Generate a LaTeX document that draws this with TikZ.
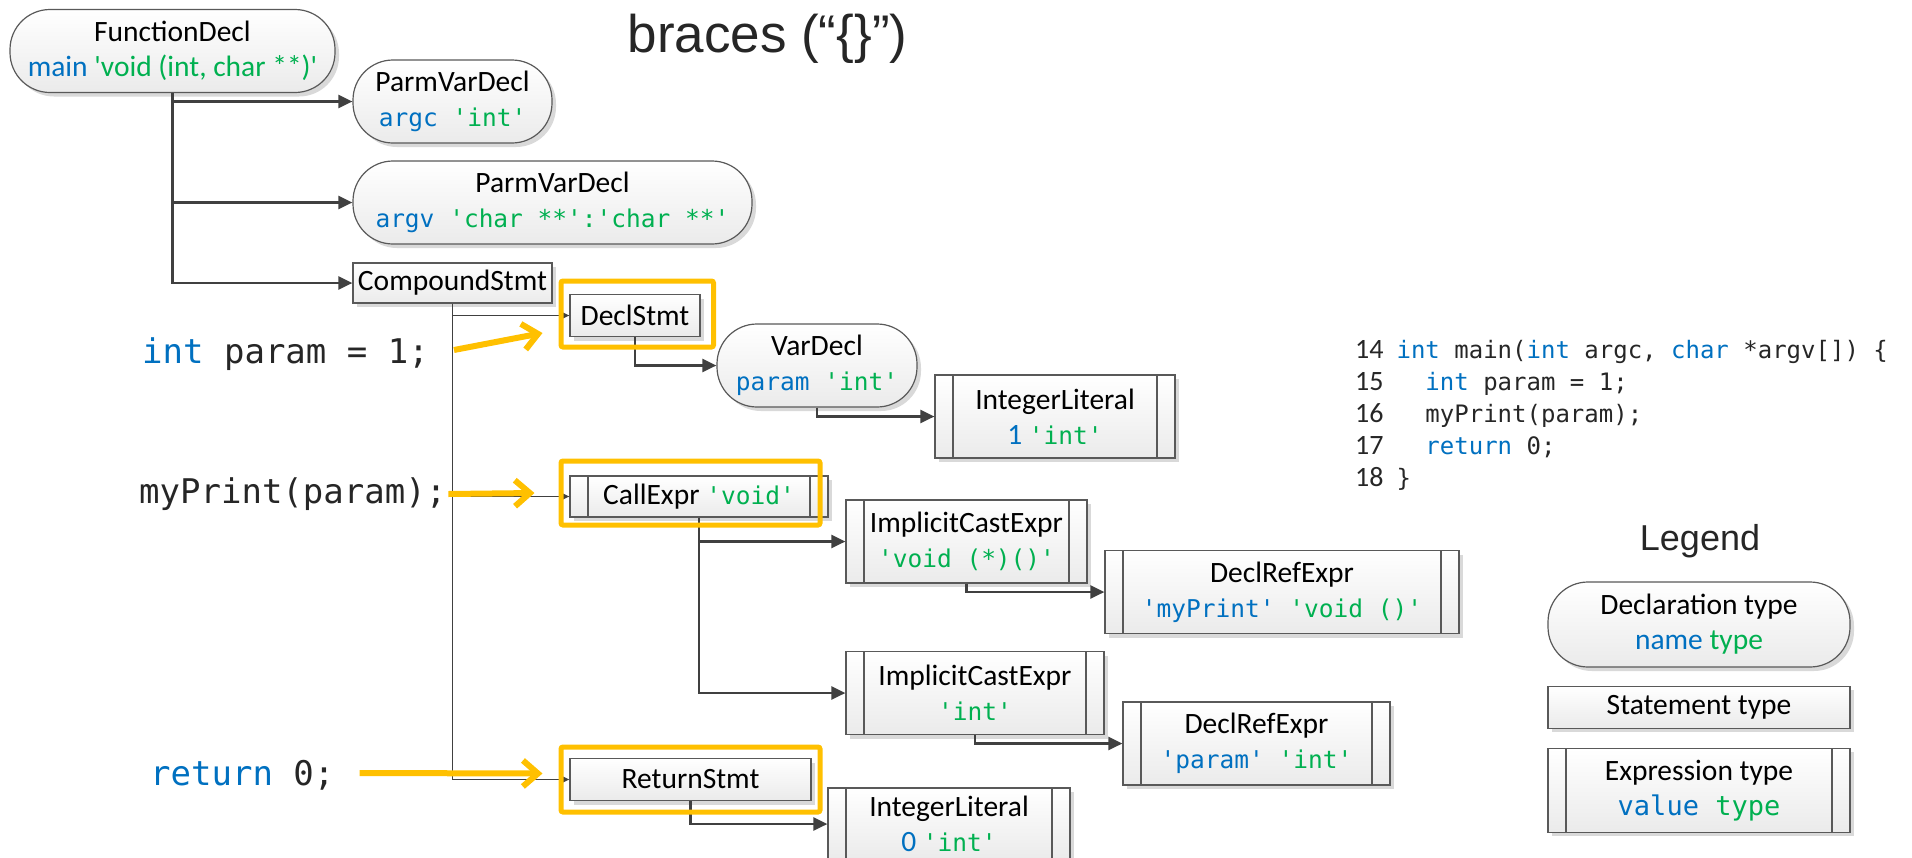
\documentclass[tikz,border=0pt]{standalone}
\usepackage{fontspec}
\setmainfont{Carlito}
\newfontfamily\calfont{Carlito}
\newfontfamily\codefont{DejaVu Sans Mono}
\newfontfamily\headfont{Liberation Sans}
\usepackage{xcolor}
\usepackage{tikz}
\usetikzlibrary{positioning, arrows.meta, shadows}
\definecolor{vblue}{HTML}{0070C0}
\definecolor{tgreen}{HTML}{00B050}
\definecolor{hlyellow}{HTML}{FFC000}
\definecolor{conngray}{HTML}{404040}
\definecolor{edgegray}{HTML}{595959}
\definecolor{inkgray}{HTML}{262626}
\newcommand{\valsans}[1]{\textcolor{vblue}{#1}}
\newcommand{\typsans}[1]{\textcolor{tgreen}{#1}}
\newcommand{\valcode}[2][24.5]{{\color{vblue}\codefont\fontsize{#1}{35}\selectfont #2}}
\newcommand{\typcode}[2][24.5]{{\color{tgreen}\codefont\fontsize{#1}{35}\selectfont #2}}
\tikzstyle{decl}=[%
      rectangle, rounded corners=40pt, draw=edgegray, line width=1.2pt, top color=white, bottom color=black!8,
      drop shadow={shadow xshift=4pt, shadow yshift=-4pt, fill=black!15, opacity=1},
      minimum height=83pt, inner sep=2pt, align=center, font=\calfont\fontsize{29.5}{35}\selectfont
]
\tikzstyle{stmt}=[%
      rectangle, draw=edgegray, line width=1.2pt, top color=white, bottom color=black!8,
      drop shadow={shadow xshift=4pt, shadow yshift=-4pt, fill=black!15, opacity=1},
      minimum height=42pt, inner sep=2pt, align=center, font=\calfont\fontsize{29.5}{35}\selectfont
]
\tikzstyle{expr}=[%
      stmt, minimum height=83pt,
      path picture={\draw[edgegray, line width=1.2pt]
        ([xshift=18pt]path picture bounding box.north west) -- ([xshift=18pt]path picture bounding box.south west)
        ([xshift=-18pt]path picture bounding box.north east) -- ([xshift=-18pt]path picture bounding box.south east);}
]
\tikzstyle{conn}=[draw=conngray, line width=2.4pt, -{Triangle[length=14pt,width=13pt]}]
\tikzstyle{thinconn}=[draw=conngray, line width=1.6pt, -{Triangle[length=9pt,width=8pt]}]
\tikzstyle{hl}=[rectangle, draw=hlyellow, line width=5pt, rounded corners=2pt, inner sep=0pt]
\tikzstyle{harrow}=[draw=hlyellow, line width=6pt, -{Straight Barb[length=15pt,width=26pt]}]
\tikzstyle{srcline}=[anchor=west, inner sep=0pt, text=inkgray, font=\codefont\fontsize{34}{40}\selectfont]

\begin{document}
\begin{tikzpicture}[x=1pt, y=-1pt]
\useasboundingbox (0,0) rectangle (1912,857);

\node[anchor=base, text=inkgray, font=\headfont\fontsize{53}{60}\selectfont](title) at (767.5,52) {braces (“\{\}”)};

\node[decl, minimum width=325pt](fdecl) at (172.5,51) {FunctionDecl\\\valsans{main} \typsans{'void (int, char **)'}};
\node[decl, minimum width=199pt](parmc) at (452.5,101.5) {ParmVarDecl\\\valcode{argc }\typcode{'int'}};
\node[decl, minimum width=399pt](parmv) at (552.5,202.5) {ParmVarDecl\\\valcode{argv }\typcode{'char **':'char **'}};
\node[stmt, minimum width=199pt, minimum height=40pt](compound) at (452.5,283) {CompoundStmt};
\node[stmt, minimum width=130pt](declstmt) at (635,315.5) {DeclStmt};
\node[decl, minimum width=200pt](vardecl) at (817,365.5) {VarDecl\\\valcode{param }\typcode{'int'}};
\node[expr, minimum width=240pt](intlitone) at (1055,416.5) {IntegerLiteral\\\valsans{1} \typcode{'int'}};
\node[expr, minimum width=258pt, minimum height=41pt](callexpr) at (699,496.5) {CallExpr \typcode{'void'}};
\node[expr, minimum width=241pt](castone) at (966.5,541.5) {ImplicitCastExpr\\\typcode{'void (*)()'}};
\node[expr, minimum width=354pt](refone) at (1282,592) {DeclRefExpr\\\valcode{'myPrint' }\typcode{'void ()'}};
\node[expr, minimum width=258pt](casttwo) at (975,693) {ImplicitCastExpr\\\typcode{'int'}};
\node[expr, minimum width=267pt](reftwo) at (1256.5,743.5) {DeclRefExpr\\\valcode{'param' }\typcode{'int'}};
\node[stmt, minimum width=241pt](retstmt) at (690.5,779.5) {ReturnStmt};
\node[expr, minimum width=242pt, minimum height=72pt](intlittwo) at (949,824) {IntegerLiteral\\\valsans{0} \typcode{'int'}};

\draw[conn](fdecl.south) |- (parmc.west);
\draw[conn](fdecl.south) |- (parmv.west);
\draw[conn](fdecl.south) |- (compound.west);
\draw[thinconn](compound.south) |- (declstmt.west);
\draw[thinconn](compound.south) |- (callexpr.west);
\draw[thinconn](compound.south) |- (retstmt.west);
\draw[conn](declstmt.south) |- (vardecl.west);
\draw[conn](vardecl.south) |- (intlitone.west);
\draw[conn](callexpr.south) |- (castone.west);
\draw[conn](callexpr.south) |- (casttwo.west);
\draw[conn](castone.south) |- (refone.west);
\draw[conn](casttwo.south) |- (reftwo.west);
\draw[conn](retstmt.south) |- (intlittwo.west);

\node[srcline](srcint) at (142,354) {\textcolor{vblue}{int} param = 1;};
\node[srcline](srcprint) at (139,494) {myPrint(param);};
\node[srcline](srcret) at (150,775) {\textcolor{vblue}{return} 0;};

\node[hl, minimum width=152.5pt, minimum height=66pt](hldecl) at (637.25,314) {};
\node[hl, minimum width=259pt, minimum height=64pt](hlcall) at (690.5,493) {};
\node[hl, minimum width=259pt, minimum height=65pt](hlret) at (690.5,779.5) {};

\draw[harrow]([xshift=25pt,yshift=4pt]srcint.east) -- ([xshift=-16pt,yshift=-19pt]hldecl.west);
\draw[harrow]([xshift=2pt]srcprint.east) -- ([xshift=-24pt]hlcall.west);
\draw[harrow]([xshift=25pt,yshift=2pt]srcret.east) -- ([xshift=-16pt,yshift=6pt]hlret.west);

\node[anchor=base west, inner sep=0pt, text=inkgray, font=\codefont\fontsize{24}{32}\selectfont](listing) at (1355,358) {%
\begin{tabular}[t]{@{}l@{\hspace{13pt}}l@{}}
{\calfont\fontsize{28}{32}\selectfont 14} & \textcolor{vblue}{int} main(\textcolor{vblue}{int} argc, \textcolor{vblue}{char} *argv[]) \{\\
{\calfont\fontsize{28}{32}\selectfont 15} & \phantom{ii}\textcolor{vblue}{int} param = 1;\\
{\calfont\fontsize{28}{32}\selectfont 16} & \phantom{ii}myPrint(param);\\
{\calfont\fontsize{28}{32}\selectfont 17} & \phantom{ii}\textcolor{vblue}{return} 0;\\
{\calfont\fontsize{28}{32}\selectfont 18} & \}
\end{tabular}};

\node[anchor=base, text=inkgray, font=\headfont\fontsize{36}{40}\selectfont](legend) at (1700,550) {Legend};
\node[decl, minimum width=302pt, minimum height=85pt](legdecl) at (1699,624.5) {Declaration type\\\valsans{name} \typsans{type}};
\node[stmt, minimum width=302pt, below=18pt of legdecl](legstmt) {Statement type};
\node[expr, minimum width=302pt, minimum height=84pt, below=19pt of legstmt](legexpr) {Expression type\\\valcode[27]{value }\typcode[27]{type}};
\end{tikzpicture}
\end{document}
